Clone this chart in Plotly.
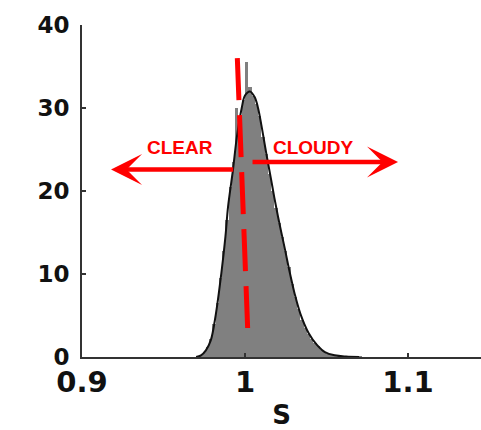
import plotly.graph_objects as go

# Histogram bins (centers) and counts
bin_centers = [0.971, 0.973, 0.975, 0.977, 0.979, 0.981, 0.983, 0.985, 0.987, 0.989,
               0.991, 0.993, 0.995, 0.997, 0.999, 1.001, 1.003, 1.005, 1.007, 1.009,
               1.011, 1.013, 1.015, 1.017, 1.019, 1.021, 1.023, 1.025, 1.027, 1.029,
               1.031, 1.033, 1.035, 1.037, 1.039, 1.041, 1.043, 1.045, 1.047, 1.049,
               1.051, 1.053, 1.055, 1.057, 1.059, 1.061, 1.063, 1.065, 1.067, 1.069, 1.071]
bin_counts = [0.1, 0.3, 0.6, 1.2, 2.2, 4.0, 6.5, 9.5, 12.8, 16.5,
              20.5, 23.5, 30.0, 28.5, 31.0, 35.5, 32.5, 31.5, 30.5, 29.0,
              26.5, 24.5, 22.0, 20.0, 18.0, 16.2, 14.5, 12.8, 10.8, 8.8,
              7.2, 5.8, 4.5, 3.5, 2.8, 2.2, 1.7, 1.3, 0.9, 0.6,
              0.4, 0.3, 0.2, 0.15, 0.1, 0.1, 0.05, 0.05, 0.03, 0.02, 0.01]

# Fitted curve
curve_s = [0.970, 0.973, 0.976, 0.979, 0.982, 0.9855, 0.988, 0.9896, 0.9926, 0.995,
           0.998, 1.000, 1.003, 1.006, 1.008, 1.010, 1.013, 1.016, 1.018, 1.021,
           1.0245, 1.027, 1.0305, 1.034, 1.039, 1.044, 1.049, 1.055, 1.062, 1.070]
curve_y = [0.0, 0.2, 0.8, 2.0, 5.0, 10.1, 14.5, 18.1, 22.5, 26.5,
           30.0, 31.5, 32.0, 31.3, 30.0, 28.0, 24.6, 21.4, 19.2, 16.2,
           13.0, 10.6, 7.6, 5.2, 2.9, 1.5, 0.6, 0.2, 0.05, 0.0]

# Threshold (dashed red line)
thresh_s = [0.9953, 1.0018]
thresh_y = [36.0, 2.65]

# Arrows: (tail_s, tip_s, y)
clear_arrow = (0.9937, 0.9178, 22.6)
cloudy_arrow = (1.0037, 1.0939, 23.5)
labels = ["CLEAR", "CLOUDY"]
label_s = [0.9603, 1.0420]
label_y = [25.2, 25.2]

x_ticks = [0.9, 1.0, 1.1]
x_ticktext = ["0.9", "1", "1.1"]
y_ticks = [0, 10, 20, 30, 40]

RED = "#FF0000"

fig = go.Figure()
fig.add_trace(go.Bar(x=bin_centers, y=bin_counts, width=0.002,
                     marker=dict(color="#808080", line=dict(width=0)),
                     showlegend=False, hoverinfo="skip"))
fig.add_trace(go.Scatter(x=curve_s, y=curve_y, mode="lines",
                         line=dict(color="#111111", width=2, shape="spline"),
                         showlegend=False))
fig.add_trace(go.Scatter(x=thresh_s, y=thresh_y, mode="lines",
                         line=dict(color=RED, width=5, dash="42px,15px"),
                         showlegend=False))

for tail, tip, yy in [clear_arrow, cloudy_arrow]:
    fig.add_annotation(x=tip, y=yy, ax=tail, ay=yy, xref="x", yref="y",
                       axref="x", ayref="y", text="", showarrow=True,
                       arrowhead=3, arrowsize=1.15, arrowwidth=4.5,
                       arrowcolor=RED)

for t, sx, sy in zip(labels, label_s, label_y):
    fig.add_annotation(x=sx, y=sy, text=t, showarrow=False, xref="x", yref="y",
                       font=dict(family="Liberation Sans, Arial", size=19,
                                 color=RED, weight="bold"))

axis_font = dict(family="DejaVu Sans", color="#111111", weight="bold")
fig.update_layout(
    width=481, height=430,
    margin=dict(l=82, r=0, t=25, b=73, autoexpand=False),
    plot_bgcolor="white", paper_bgcolor="white",
    bargap=0,
    xaxis=dict(range=[0.9, 1.1448], tickvals=x_ticks, ticktext=x_ticktext,
               ticks="inside", ticklen=4, tickwidth=2, tickcolor="#333333",
               showline=True, linecolor="#333333", linewidth=2,
               showgrid=False, zeroline=False, automargin=False,
               tickfont=dict(size=29, **axis_font),
               ticklabelstandoff=-2,
               title=dict(text="S", font=dict(size=26, **axis_font), standoff=11)),
    yaxis=dict(range=[0, 40], tickvals=y_ticks,
               ticks="inside", ticklen=4, tickwidth=2, tickcolor="#333333",
               showline=True, linecolor="#333333", linewidth=2,
               showgrid=False, zeroline=False, automargin=False,
               tickfont=dict(size=23, **axis_font),
               ticklabelstandoff=6),
)

fig.write_html("out.html", config={"displayModeBar": False},
               post_script="document.body.style.margin='0';document.body.style.overflow='hidden';")
